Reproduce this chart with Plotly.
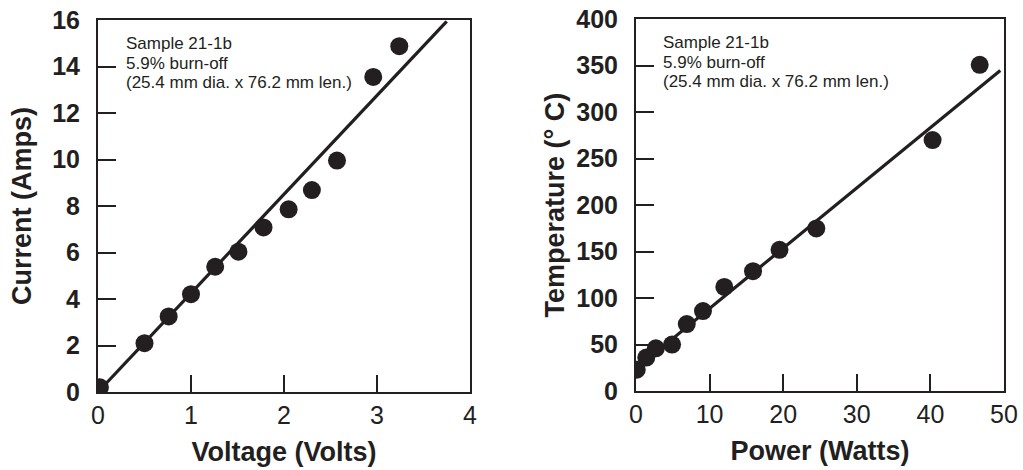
import plotly.graph_objects as go

# Left panel: current vs voltage
voltage = [0.02, 0.5, 0.76, 1.0, 1.26, 1.51, 1.78, 2.05, 2.30, 2.57, 2.96, 3.24]
current = [0.2, 2.1, 3.25, 4.21, 5.39, 6.04, 7.08, 7.86, 8.69, 9.96, 13.56, 14.88]
fit_v = [0.0, 3.75]
fit_i = [0.0, 15.95]

# Right panel: temperature vs power
power = [0.1, 1.4, 2.7, 4.9, 6.9, 9.1, 12.0, 15.9, 19.5, 24.5, 40.3, 46.7]
temperature = [23, 36, 46, 50, 72, 86, 112, 129, 152, 175, 270, 351]
fit_p = [0.3, 49.5]
fit_t = [26, 345]

x_ticks_left = [0, 1, 2, 3, 4]
y_ticks_left = [0, 2, 4, 6, 8, 10, 12, 14, 16]
x_ticks_right = [0, 10, 20, 30, 40, 50]
y_ticks_right = [0, 50, 100, 150, 200, 250, 300, 350, 400]

note_lines = ["Sample 21-1b", "5.9% burn-off", "(25.4 mm dia. x 76.2 mm len.)"]
note_y = [0.938, 0.884, 0.833]

INK = "#231f20"
FONT = "Liberation Sans, Arial, Helvetica, sans-serif"

fig = go.Figure()
fig.add_trace(go.Scatter(x=fit_v, y=fit_i, mode="lines",
                         line=dict(color=INK, width=3.2), xaxis="x", yaxis="y",
                         showlegend=False, hoverinfo="skip"))
fig.add_trace(go.Scatter(x=voltage, y=current, mode="markers",
                         marker=dict(color=INK, size=18), xaxis="x", yaxis="y",
                         showlegend=False))
fig.add_trace(go.Scatter(x=fit_p, y=fit_t, mode="lines",
                         line=dict(color=INK, width=3.2), xaxis="x2", yaxis="y2",
                         showlegend=False, hoverinfo="skip"))
fig.add_trace(go.Scatter(x=power, y=temperature, mode="markers",
                         marker=dict(color=INK, size=18), xaxis="x2", yaxis="y2",
                         showlegend=False))

def xax(dom, rng, ticks, title, anchor):
    return dict(domain=dom, range=rng, tickvals=ticks, ticks="inside", ticklen=17,
                tickwidth=1.5, tickcolor=INK, showline=True, linecolor=INK, linewidth=2,
                mirror=True, showgrid=False, zeroline=False, anchor=anchor,
                tickfont=dict(family=FONT, size=25, color=INK),
                ticklabelstandoff=0,
                title=dict(text=title, font=dict(family=FONT, size=27, color=INK, weight="bold"),
                           standoff=14),
                automargin=False)

def yax(dom, rng, ticks, title, anchor, standoff):
    return dict(domain=dom, range=rng, tickvals=ticks, ticks="inside", ticklen=18,
                tickwidth=1.5, tickcolor=INK, showline=True, linecolor=INK, linewidth=2,
                mirror=True, showgrid=False, zeroline=False, anchor=anchor,
                tickfont=dict(family=FONT, size=25, color=INK, weight="bold"),
                ticklabelstandoff=11,
                title=dict(text=title, font=dict(family=FONT, size=27, color=INK, weight="bold"),
                           standoff=standoff),
                automargin=False)

annotations = []
for xr, yr, x0 in [("x domain", "y domain", 0.070), ("x2 domain", "y2 domain", 0.0676)]:
    for line, yy in zip(note_lines, note_y):
        annotations.append(dict(text=line, xref=xr, yref=yr, x=x0, y=yy,
                                xanchor="left", yanchor="middle", showarrow=False,
                                align="left", font=dict(family=FONT, size=17, color=INK)))

fig.update_layout(
    width=1023, height=470,
    margin=dict(l=0, r=0, t=0, b=0),
    paper_bgcolor="white", plot_bgcolor="white",
    xaxis=xax([0.0958, 0.4594], [0, 4], x_ticks_left, "Voltage (Volts)", "y"),
    yaxis=yax([0.166, 0.957], [0, 16], y_ticks_left, "Current (Amps)", "x", 13),
    xaxis2=xax([0.6217, 0.9814], [0, 50], x_ticks_right, "Power (Watts)", "y2"),
    yaxis2=yax([0.168, 0.959], [0, 400], y_ticks_right, "Temperature (° C)", "x2", 4),
    annotations=annotations,
)

fig.write_html("out.html", config={"displayModeBar": False},
               post_script="document.body.style.margin='0';document.body.style.overflow='hidden';")
